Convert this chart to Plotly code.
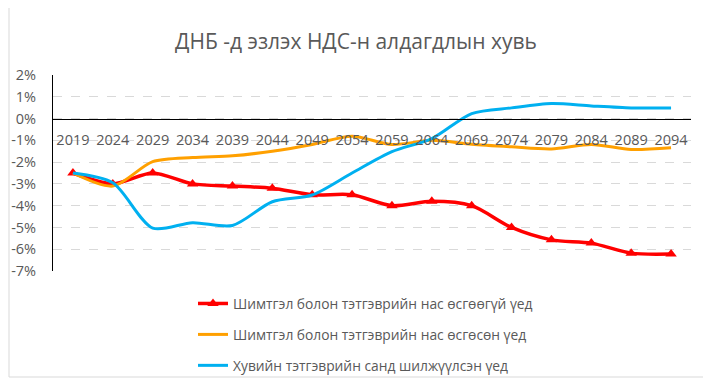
import plotly.graph_objects as go

years = ["2019", "2024", "2029", "2034", "2039", "2044", "2049", "2054",
         "2059", "2064", "2069", "2074", "2079", "2084", "2089", "2094"]

no_raise = [-2.5, -3.0, -2.5, -3.0, -3.1, -3.2, -3.5, -3.5,
            -4.0, -3.8, -4.0, -5.0, -5.57, -5.72, -6.18, -6.22]
raised = [-2.5, -3.1, -1.98, -1.79, -1.71, -1.5, -1.19, -0.81,
          -1.19, -1.0, -1.18, -1.3, -1.4, -1.19, -1.42, -1.34]
private = [-2.5, -2.95, -5.03, -4.78, -4.91, -3.82, -3.51, -2.5,
           -1.52, -0.92, 0.23, 0.49, 0.69, 0.58, 0.49, 0.49]

names = ["Шимтгэл болон тэтгэврийн нас өсгөөгүй үед",
         "Шимтгэл болон тэтгэврийн нас өсгөсөн үед",
         "Хувийн тэтгэврийн санд шилжүүлсэн үед"]

y_ticks = [2, 1, 0, -1, -2, -3, -4, -5, -6, -7]
y_labels = ["2%", "1%", "0%", "-1%", "-2%", "-3%", "-4%", "-5%", "-6%", "-7%"]

title = "ДНБ -д эзлэх НДС-н алдагдлын хувь"

font = "Open Sans"
grey = "#595959"

fig = go.Figure()
fig.add_trace(go.Scatter(x=years, y=no_raise, name=names[0], mode="lines+markers",
                         legendgroup="a",
                         line=dict(color="#FF0000", width=3.5, shape="spline", smoothing=0.8),
                         marker=dict(symbol="triangle-up", size=10, color="#FF0000")))
fig.add_trace(go.Scatter(x=years, y=raised, name=names[1], mode="lines",
                         legendgroup="b",
                         line=dict(color="#FFA000", width=3, shape="spline", smoothing=0.8)))
fig.add_trace(go.Scatter(x=years, y=private, name=names[2], mode="lines",
                         legendgroup="c",
                         line=dict(color="#00B0F0", width=3, shape="spline", smoothing=0.8)))

W, H = 703, 370
L, R, T, B = 45, 20, 67, 107
pw, ph = W - L - R, H - T - B

fig.update_layout(
    width=W, height=H,
    margin=dict(l=L, r=R, t=T, b=B, autoexpand=False),
    paper_bgcolor="white", plot_bgcolor="white",
    font=dict(family=font, color=grey, size=14),
    title=dict(text=title, x=0.495, xref="container", xanchor="center",
               y=1 - 34 / H, yref="container", yanchor="middle",
               font=dict(family=font, size=21, color=grey)),
    showlegend=True,
    legend=dict(orientation="v", x=185 / W, xref="container", xanchor="left",
                y=1 - 280 / H, yref="container", yanchor="top",
                font=dict(family=font, size=13.8, color=grey), tracegroupgap=10,
                itemwidth=30, bgcolor="rgba(0,0,0,0)"),
    xaxis=dict(type="category", range=[-0.5, 15.5], anchor="free", position=7/9,
               showline=True, linecolor="black", linewidth=1, showgrid=False,
               ticks="outside", ticklen=8, tickcolor="rgba(0,0,0,0)", automargin=False,
               tickfont=dict(size=14.5, color=grey)),
    yaxis=dict(range=[-7, 2], domain=[0, 1], tickvals=y_ticks, ticktext=y_labels,
               showline=True, linecolor="black", linewidth=1, automargin=False,
               showgrid=True, gridcolor="#D9D9D9", griddash="dash", gridwidth=1,
               zeroline=False, ticks="outside", ticklen=13, tickcolor="rgba(0,0,0,0)",
               tickfont=dict(size=14.5, color=grey)),
)

fig.add_shape(type="rect", xref="paper", yref="paper",
              x0=-44 / pw, x1=(W - 3 - L) / pw, y0=-(B - 1) / ph, y1=1 + (T + 7) / ph,
              line=dict(color="#D9D9D9", width=1), fillcolor="rgba(0,0,0,0)", layer="below")

fig.write_html("out.html")
